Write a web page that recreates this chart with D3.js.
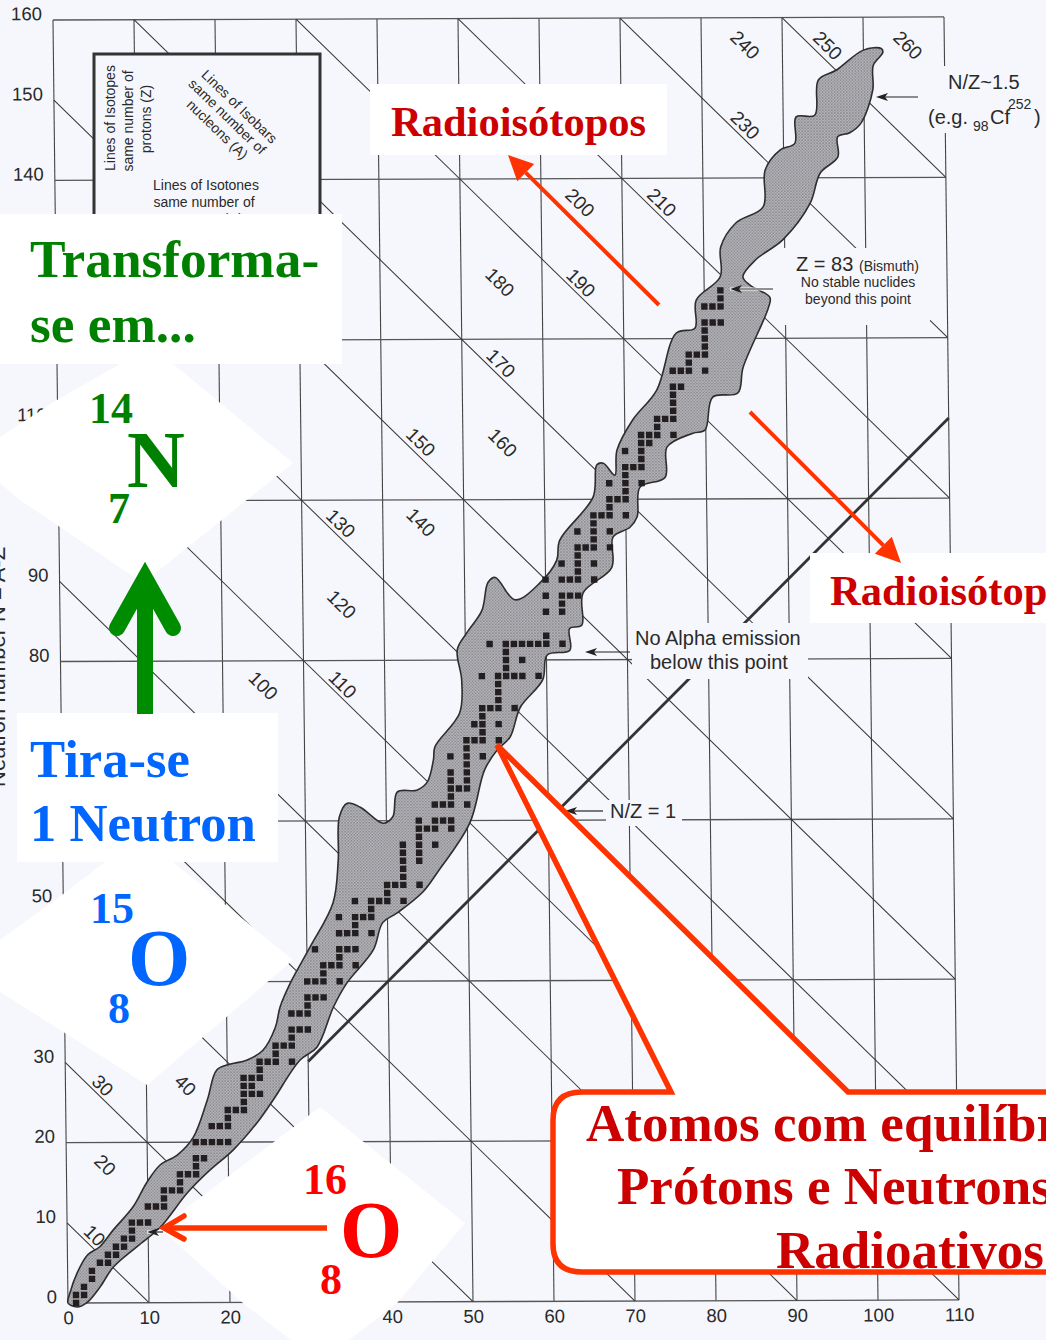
<!DOCTYPE html>
<html>
<head>
<meta charset="utf-8">
<script src="https://cdn.jsdelivr.net/npm/d3@7"></script>
<style>
  html, body { margin: 0; padding: 0; background: #fff; overflow: hidden; }
  text { font-family: "Liberation Sans", sans-serif; fill: #2a2a2a; }
  .big { font-family: "Liberation Serif", serif; font-weight: bold; }
</style>
</head>
<body>
<svg id="chart"></svg>
<script>
// axis ticks that can be seen (the others are under the pasted white patches)
const zTicks = [0, 10, 20, 40, 50, 60, 70, 80, 90, 100, 110];
const nTicks = [0, 10, 20, 30, 50, 80, 90, 110, 140, 150, 160];
const zLines = [0, 10, 20, 30, 40, 50, 60, 70, 80, 90, 100, 110];
const nLines = [0, 20, 40, 60, 80, 100, 120, 140, 160];
const isobarLines = [10, 30, 50, 70, 90, 110, 130, 150, 170, 190, 210, 230, 250];

// printed isobar labels: [A, Z, N] where the number sits on the chart
const isobarLabels = [
  [10, 3.4, 8.4], [20, 4.8, 17.2], [30, 4.6, 27.1], [40, 14.8, 27.1],
  [100, 25, 76.9], [110, 34.8, 77], [120, 34.8, 87], [130, 34.8, 97.1],
  [140, 44.7, 97.2], [150, 44.8, 107.2], [160, 54.9, 107.1], [170, 54.8, 117],
  [180, 54.8, 127.1], [190, 64.8, 127], [200, 64.8, 137], [210, 74.9, 137],
  [230, 85.3, 146.6], [240, 85.4, 156.6], [250, 95.6, 156.5],
  [260, 105.5, 156.5]
];

// outline of the band of known nuclides, [Z, N], up the proton-poor side...
const bandUpper = [
  [0, 0], [0.3, 1.4], [1.15, 3.7], [2.5, 6], [4, 7], [5.7, 9.1], [8.2, 12], [9.9, 15], [11.6, 17.2],
  [13.7, 18.4], [15.7, 20.6], [17.5, 25.3], [18.7, 29], [20.3, 29.7], [22.4, 30.2], [24.4, 31.4],
  [26, 34.3], [26.6, 36.8], [27.9, 39.8], [30.4, 44.3], [33.3, 49.8], [34, 55.1], [34.2, 60.5],
  [35.2, 62.2], [36.8, 61.7], [39.6, 59.7], [40.8, 60.5], [41.4, 63.6], [43.8, 63.8], [45.1, 64.8],
  [45.9, 67.6], [46.1, 69.2], [49.2, 73.4], [49.5, 77.5], [49, 81.3], [50.2, 83.4], [52.1, 86.2],
  [52.9, 89.7], [53.8, 90.3], [56.2, 87.5], [59.3, 89.6], [61.4, 92.4], [61.8, 94.9], [66, 100.3],
  [66.5, 104.3], [67.3, 104.5], [68.7, 103], [69, 106.1], [71, 109.9], [74, 113.6], [76.5, 120.7],
  [78.8, 121.3], [79, 124.8], [82, 127.7], [82.1, 131.4], [84, 134.4], [87.4, 136.4], [87.7, 141],
  [89.6, 143.5], [91.4, 144.3], [91.6, 147.6], [93.9, 147.8], [94.4, 152.2], [96.6, 153.4],
  [100, 155.9], [102.2, 156.1]
];
// ...and back down the neutron-poor side
const bandLower = [
  [102.4, 155.6], [101.2, 154], [101.1, 150.9], [99.6, 146.8], [98.2, 145.6], [96.7, 145.1],
  [96.7, 142.6], [94.5, 140.6], [93.2, 136.8], [89.8, 132.3], [86.4, 129.8], [84.8, 127.7],
  [85.7, 126.6], [88.1, 125.1], [87.9, 123.8], [84.7, 116.4], [84, 113.2], [80.9, 112.7],
  [79.9, 108.6], [78.4, 108.2], [75.2, 106.5], [74.9, 102.7], [71.8, 101.5], [71.4, 97.8],
  [70.5, 96.5], [68.4, 95.3], [68.2, 91.5], [64.6, 88.3], [64.4, 84.3], [62.9, 83.9], [62.9, 81.2],
  [60.1, 80.6], [59.5, 77.5], [56.7, 74.1], [55.4, 70.4], [53.8, 68.8], [52.2, 66.3], [50.3, 59.7],
  [46.2, 53.5], [44.4, 51.1], [41.2, 48.5], [39.4, 47.3], [38.2, 43.9], [34.9, 39.8], [33.2, 36.8],
  [31.1, 31.8], [29, 30.2], [25.6, 25.2], [23.6, 22.4], [20.6, 19], [17.7, 16.5], [14.9, 13.7],
  [11.5, 9.4], [8.6, 7], [5.6, 4.4], [4, 2], [2.3, 0], [1.1, -0.5]
];

// stable nuclides as rows: [N, [Z, Z, ...]]
const stableRows = [
  [0, [1]], [1, [1, 2]], [2, [2]], [3, [3]], [4, [3]], [5, [4, 5]], [6, [5, 6]], [7, [6, 7]], [8, [7, 8]],
  [9, [8]], [10, [8, 9, 10]], [12, [10, 11, 12]], [13, [12]], [14, [12, 13, 14]], [15, [14]],
  [16, [14, 15, 16]], [17, [16]], [18, [16, 17]], [20, [16, 17, 18, 19, 20]], [22, [18, 19, 20]], [23, [20]],
  [24, [20, 21, 22]], [25, [22]], [26, [22, 23, 24]], [27, [22, 23]], [28, [22, 23, 24]], [29, [24]],
  [30, [24, 25, 26, 28]], [31, [26]], [32, [26, 27, 28]], [33, [28]], [34, [28, 29, 30]], [36, [28, 29, 30]],
  [37, [30]], [38, [30, 31, 32]], [40, [30, 31, 32, 34]], [41, [32]], [42, [32, 33, 34, 36]], [43, [34]],
  [44, [31, 34, 35, 36]], [46, [34, 35, 36, 38]], [47, [36]], [48, [34, 36, 37, 38]], [49, [38]],
  [50, [36, 38, 39, 40, 42]], [51, [40]], [52, [40, 41, 42, 44]], [53, [42]], [54, [42]], [55, [42, 44]],
  [56, [42, 44]], [57, [42, 44, 46]], [58, [44]], [59, [44, 45, 46, 48]], [60, [44, 46, 47, 48]],
  [62, [46, 47, 48, 50]], [63, [48]], [64, [48, 49, 50]], [65, [48, 50]], [66, [48, 50]], [67, [50]],
  [68, [48, 50, 52]], [69, [50]], [70, [50, 51, 52, 54]], [71, [52]], [72, [51, 52, 54]], [73, [52]],
  [74, [52, 53, 54, 56]], [75, [54]], [76, [54]], [77, [54]], [78, [52, 54, 55, 56, 57, 59]], [79, [55]],
  [80, [55, 57]], [81, [55]], [82, [53, 55, 56, 57, 58, 59, 60, 62]], [83, [60]], [86, [60, 62]], [87, [62]],
  [88, [60, 62, 63, 64]], [90, [60, 62, 63, 64, 66]], [91, [64]], [92, [62, 64, 66]], [93, [64]],
  [94, [64, 65, 66, 68]], [95, [66]], [96, [64, 66, 68]], [97, [66]], [98, [66, 67, 68, 70]], [99, [68]],
  [100, [68, 69, 70]], [101, [70]], [102, [68, 70, 72]], [103, [70]], [104, [70, 71, 72]], [105, [72]],
  [106, [70, 72]], [107, [72, 73]], [108, [72, 73, 74, 76]], [109, [74]], [110, [74, 75, 76]], [111, [76]],
  [112, [76]], [113, [76]], [114, [76, 77]], [116, [76, 77, 78, 80]], [117, [78]], [118, [78, 79, 80]],
  [119, [80]], [120, [80]], [121, [80]], [122, [80, 81, 82]], [124, [80, 81, 82]], [125, [82]], [126, [82]]
];

const width = 1046;
const height = 1340;
const paper = "#f6f7fc";
const red = "#cc0000";
const arrowRed = "#ff3300";
const green = "#008000";
const blue = "#0066ff";

const svg = d3.select("#chart").attr("width", width).attr("height", height)
  .style("display", "block");
svg.append("rect").attr("width", width).attr("height", height).attr("fill", paper);

// scanned halftone of the band
const pat = svg.append("defs").append("pattern").attr("id", "halftone")
  .attr("width", 3).attr("height", 3).attr("patternUnits", "userSpaceOnUse");
pat.append("rect").attr("width", 3).attr("height", 3).attr("fill", "#b4b4b8");
pat.append("rect").attr("width", 1.5).attr("height", 1.5).attr("fill", "#8c8c90");
pat.append("rect").attr("x", 1.5).attr("y", 1.5).attr("width", 1.5).attr("height", 1.5).attr("fill", "#98989e");

const xScale = d3.scaleLinear().domain([0, 110]).range([0, 891]);
const yScale = d3.scaleLinear().domain([0, 160]).range([0, -1283]);

// the printed page is slightly skewed on the scanner
const plot = svg.append("g").attr("transform", "matrix(1,-0.0034,0.0117,1,68,1303)");

// grid
plot.append("g").selectAll("line").data(zLines).join("line")
  .attr("x1", d => xScale(d)).attr("x2", d => xScale(d))
  .attr("y1", yScale(0)).attr("y2", yScale(160))
  .attr("stroke", "#444").attr("stroke-width", 1.1);
plot.append("g").selectAll("line").data(nLines).join("line")
  .attr("x1", xScale(0)).attr("x2", xScale(110))
  .attr("y1", d => yScale(d)).attr("y2", d => yScale(d))
  .attr("stroke", "#555").attr("stroke-width", 1.3);
plot.append("g").selectAll("line").data(isobarLines).join("line")
  .attr("x1", d => xScale(Math.max(0, d - 160))).attr("y1", d => yScale(d - Math.max(0, d - 160)))
  .attr("x2", d => xScale(Math.min(110, d))).attr("y2", d => yScale(d - Math.min(110, d)))
  .attr("stroke", "#333").attr("stroke-width", 1);

// N/Z = 1
plot.append("line")
  .attr("x1", xScale(30)).attr("y1", yScale(30))
  .attr("x2", xScale(110)).attr("y2", yScale(110))
  .attr("stroke", "#333").attr("stroke-width", 2.8);

// axes, only for the labels
const xAxis = plot.append("g")
  .call(d3.axisBottom(xScale).tickValues(zTicks).tickSize(0).tickPadding(8));
const yAxis = plot.append("g")
  .call(d3.axisLeft(yScale).tickValues(nTicks).tickSize(0).tickPadding(11));
xAxis.select(".domain").remove();
yAxis.select(".domain").remove();
xAxis.selectAll("text").style("font-size", "18.5px").style("font-family", "Liberation Sans").attr("fill", "#333");
yAxis.selectAll("text").style("font-size", "18.5px").style("font-family", "Liberation Sans").attr("fill", "#333").attr("dy", "-0.02em");

// band
const bandLine = d3.line().x(d => xScale(d[0])).y(d => yScale(d[1])).curve(d3.curveCatmullRomClosed.alpha(0.5));
plot.append("path").attr("d", bandLine(bandUpper.concat(bandLower)))
  .attr("fill", "url(#halftone)").attr("stroke", "#2e2e2e").attr("stroke-width", 1.6);

// stable nuclides
const squareSize = 6.4;
plot.append("g").selectAll("g").data(stableRows).join("g")
  .selectAll("rect").data(d => d[1].map(z => [z, d[0]])).join("rect")
  .attr("x", d => xScale(d[0]) - squareSize / 2)
  .attr("y", d => yScale(d[1]) - squareSize / 2)
  .attr("width", squareSize).attr("height", squareSize)
  .attr("fill", "#231f20");

// isobar labels
plot.append("g").selectAll("text").data(isobarLabels).join("text")
  .attr("transform", d => `translate(${xScale(d[1])},${yScale(d[2])}) rotate(45)`)
  .attr("text-anchor", "middle").attr("dy", "0.35em")
  .style("font-size", "19px")
  .text(d => d[0]);

// paper masks behind printed notes
const masks = [[925, 66, 115, 67], [778, 248, 152, 77], [632, 623, 176, 56], [606, 800, 76, 26]];
svg.append("g").selectAll("rect").data(masks).join("rect")
  .attr("x", d => d[0]).attr("y", d => d[1]).attr("width", d => d[2]).attr("height", d => d[3])
  .attr("fill", paper);

// legend box
svg.append("rect").attr("x", 94).attr("y", 54).attr("width", 226).attr("height", 240)
  .attr("fill", paper).attr("stroke", "#333").attr("stroke-width", 3);

function note(x, y, str, size, opts = {}) {
  const t = svg.append("text").attr("x", x).attr("y", y).style("font-size", size + "px")
    .attr("text-anchor", opts.anchor || "start").text(str);
  if (opts.rotate !== undefined) t.attr("transform", `rotate(${opts.rotate},${x},${y})`);
  return t;
}

note(115, 118, "Lines of Isotopes", 14, { anchor: "middle", rotate: -90 });
note(133, 121, "same number of", 14, { anchor: "middle", rotate: -90 });
note(151, 119, "protons (Z)", 14, { anchor: "middle", rotate: -90 });
note(236, 110, "Lines of Isobars", 14, { anchor: "middle", rotate: 44 });
note(224, 120, "same number of", 14, { anchor: "middle", rotate: 44 });
note(214, 133, "nucleons (A)", 14, { anchor: "middle", rotate: 44 });
note(206, 190, "Lines of Isotones", 14, { anchor: "middle" });
note(204, 207, "same number of", 14, { anchor: "middle" });
note(204, 224, "neutrons (N)", 14, { anchor: "middle" });

// notes on the plot
note(948, 89, "N/Z~1.5", 20);
note(928, 124, "(e.g.", 20);
note(973, 131, "98", 14);
note(990, 124, "Cf", 20);
note(1008, 109, "252", 14);
note(1034, 124, ")", 20);
note(796, 271, "Z = 83", 20);
note(859, 271, "(Bismuth)", 14);
note(858, 287, "No stable nuclides", 14, { anchor: "middle" });
note(858, 304, "beyond this point", 14, { anchor: "middle" });
note(635, 645, "No Alpha emission", 20);
note(650, 669, "below this point", 20);
note(610, 818, "N/Z = 1", 20);

// small printed arrows
function thinArrow(x1, x2, y, halo) {
  const dir = x2 < x1 ? 1 : -1;
  if (halo) {
    svg.append("line").attr("x1", x1).attr("x2", x2).attr("y1", y).attr("y2", y)
      .attr("stroke", "#fff").attr("stroke-width", 3);
  }
  svg.append("line").attr("x1", x1).attr("x2", x2 + dir * 8).attr("y1", y).attr("y2", y)
    .attr("stroke", "#222").attr("stroke-width", 1.2);
  svg.append("path").attr("d", `M${x2},${y}L${x2 + dir * 12},${y - 4}L${x2 + dir * 9},${y}L${x2 + dir * 12},${y + 4}Z`)
    .attr("fill", "#222");
}
thinArrow(918, 876, 97);
thinArrow(773, 730, 289, true);
thinArrow(630, 585, 652);
thinArrow(603, 565, 811);
thinArrow(163, 147, 1232, true);

// Neutron axis title, cut by the page edge
note(5, 787, "Neutron number N = A-Z", 22, { rotate: -90 });

// white patches pasted over the scan
const whiteRects = [[370, 84, 297, 71], [0, 214, 342, 150], [17, 713, 261, 149], [810, 553, 236, 70]];
svg.append("g").selectAll("rect").data(whiteRects).join("rect")
  .attr("x", d => d[0]).attr("y", d => d[1]).attr("width", d => d[2]).attr("height", d => d[3])
  .attr("fill", "#fff");
const whiteDiamonds = [
  [[120, 364], [173, 364], [293, 463], [143, 583], [20, 500], [0, 483], [0, 437], [57, 400]],
  [[105, 862], [173, 862], [293, 960], [147, 1085], [65, 1033], [0, 992], [0, 940], [62, 895]],
  [[320, 1107], [465, 1223], [397, 1303], [353, 1337], [320, 1362], [287, 1337], [243, 1303], [160, 1228]]
];
svg.append("g").selectAll("polygon").data(whiteDiamonds).join("polygon")
  .attr("points", d => d.join(" ")).attr("fill", "#fff");

function big(x, y, str, size, color) {
  return svg.append("text").attr("class", "big").attr("x", x).attr("y", y)
    .style("font-size", size + "px").style("fill", color).text(str);
}

big(391, 136, "Radioisótopos", 42.5, red);
big(830, 605, "Radioisótopos", 42.5, red);
big(30, 277, "Transforma-", 53.3, green);
big(30, 342, "se em...", 53.3, green);
big(89, 423, "14", 44, green);
big(127, 487, "N", 80, green);
big(108, 523, "7", 44, green);
big(30, 777, "Tira-se", 52.7, blue);
big(30, 841, "1 Neutron", 52.7, blue);
big(90, 923, "15", 44, blue);
big(128, 985, "O", 80, blue);
big(108, 1023, "8", 44, blue);
big(303, 1194, "16", 44, "#ff0000");
big(340, 1257, "O", 80, "#ff0000");
big(320, 1294, "8", 44, "#ff0000");

// red pointers
function redArrow(x1, y1, x2, y2) {
  const a = Math.atan2(y2 - y1, x2 - x1);
  const len = 25, half = 12;
  const bx = x2 - len * Math.cos(a), by = y2 - len * Math.sin(a);
  svg.append("line").attr("x1", x1).attr("y1", y1).attr("x2", bx).attr("y2", by)
    .attr("stroke", arrowRed).attr("stroke-width", 4);
  svg.append("path")
    .attr("d", `M${x2},${y2}L${bx - half * Math.sin(a)},${by + half * Math.cos(a)}L${bx + half * Math.sin(a)},${by - half * Math.cos(a)}Z`)
    .attr("fill", arrowRed);
}
redArrow(659, 305, 508, 155);
redArrow(750, 412, 901, 563);

svg.append("line").attr("x1", 327).attr("y1", 1228).attr("x2", 168).attr("y2", 1228)
  .attr("stroke", arrowRed).attr("stroke-width", 5.5);
svg.append("path").attr("d", "M184,1216L164,1228L184,1239")
  .attr("fill", "none").attr("stroke", arrowRed).attr("stroke-width", 5.5)
  .attr("stroke-linecap", "round").attr("stroke-linejoin", "miter");

// green arrow, neutron removed
svg.append("line").attr("x1", 145).attr("y1", 714).attr("x2", 145).attr("y2", 590)
  .attr("stroke", "#008c00").attr("stroke-width", 16);
svg.append("path").attr("d", "M117,628L145,578L173,628")
  .attr("fill", "none").attr("stroke", "#008c00").attr("stroke-width", 16)
  .attr("stroke-linecap", "round").attr("stroke-linejoin", "miter");

// callout
svg.append("path")
  .attr("d", "M497,745L671,1092L582,1092Q553,1092 553,1120L553,1244Q553,1272 582,1272L1060,1272L1060,1092L848,1092Z")
  .attr("fill", "#fff").attr("stroke", arrowRed).attr("stroke-width", 5.5);
big(586, 1141, "Atomos com equilíbrio", 53, red);
big(617, 1204, "Prótons e Neutrons", 53, red);
big(776, 1268, "Radioativos", 53, red);
</script>
</body>
</html>
